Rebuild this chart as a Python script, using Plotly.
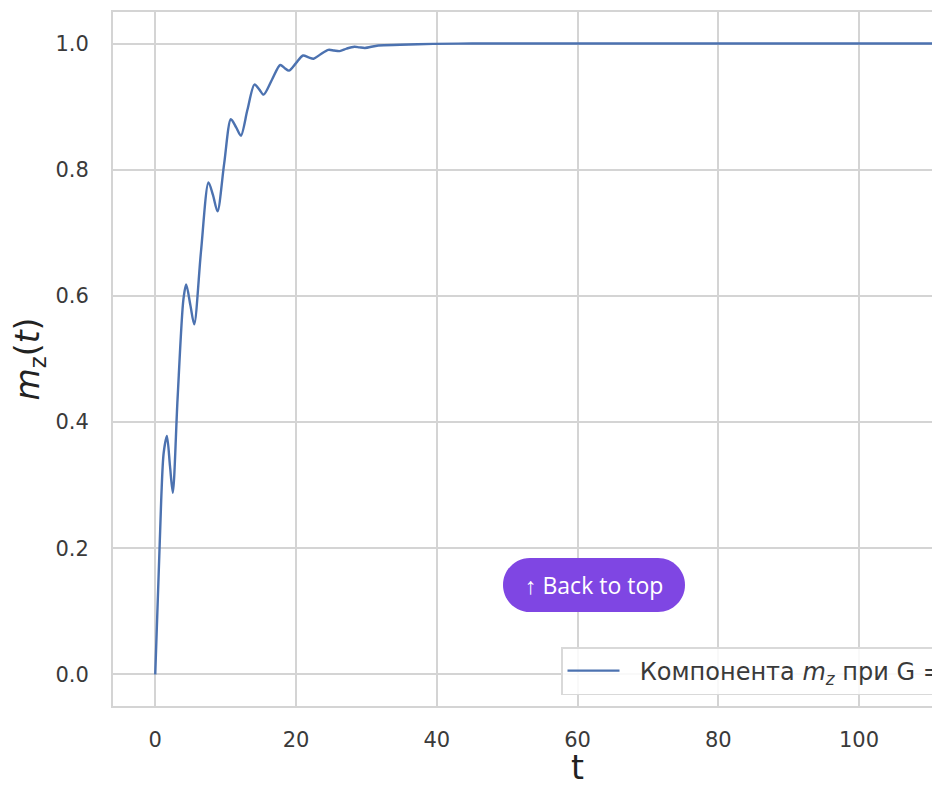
import plotly.graph_objects as go

# ---- data ----
t_vals = [0, 0.85, 1.2, 1.66, 2.1, 2.5, 3.17, 4.0, 4.4, 5.0, 5.54, 6.5, 7.57, 8.2, 8.85,
          9.8, 10.75, 11.5, 12.17, 13.1, 14.1, 14.8, 15.4, 16.6, 17.76, 18.4, 19.0,
          20.0, 21.0, 21.8, 22.5, 23.5, 24.6, 25.4, 26.2, 27.2, 28.3, 29.0, 29.8,
          31.7, 34.8, 39.5, 45, 60, 80, 100, 120]
mz_vals = [0.0, 0.277, 0.351, 0.378, 0.33, 0.288, 0.436, 0.594, 0.618, 0.585, 0.555,
           0.67, 0.78, 0.76, 0.734, 0.81, 0.88, 0.867, 0.854, 0.895, 0.935, 0.927,
           0.919, 0.943, 0.966, 0.961, 0.957, 0.969, 0.981, 0.978, 0.976, 0.983,
           0.990, 0.989, 0.988, 0.992, 0.995, 0.994, 0.993, 0.997, 0.998, 0.9995,
           1.0, 1.0, 1.0, 1.0, 1.0]
x_ticks = [0, 20, 40, 60, 80, 100]
y_ticks = [0.0, 0.2, 0.4, 0.6, 0.8, 1.0]
y_tick_text = ["0.0", "0.2", "0.4", "0.6", "0.8", "1.0"]
x_title = "t"
y_title = "<i>m</i><sub>z</sub>(<i>t</i>)"
series_name = "\u00a0\u00a0Компонента <i>m<sub>z</sub></i> при G = 0.1"

# page body has an 8px margin; keep the figure inside the viewport
OFF = 8
W, H = 932, 772
PL, PR, PT, PB = 113, OFF + W, 12, 706          # plot area in page pixels
L, R, T, B = PL - OFF, OFF + W - PR, PT - OFF, OFF + H - PB
PW, PH = PR - PL, PB - PT

def px(x):
    return (x - PL) / PW

def py(y):
    return (PB - y) / PH

fig = go.Figure()
fig.add_trace(go.Scatter(
    x=t_vals, y=mz_vals, mode="lines", name=series_name,
    line=dict(color="#4c72b0", width=2.4, shape="spline", smoothing=0.8),
    showlegend=True,
))

grid = "#d4d4d4"
font_color = "#3a3a3a"

fig.update_layout(
    width=W, height=H,
    margin=dict(l=L, r=R, t=T, b=B, pad=0, autoexpand=False),
    paper_bgcolor="white", plot_bgcolor="white",
    font=dict(family="DejaVu Sans", color=font_color, size=21),
    xaxis=dict(
        range=[-6, (PR - 155) / 7.04], tickvals=x_ticks, ticktext=[str(v) for v in x_ticks],
        showgrid=True, gridcolor=grid, gridwidth=1.6, zeroline=False,
        showline=True, linecolor=grid, linewidth=2, mirror=True,
        ticks="", ticklabelstandoff=14, automargin=False,
    ),
    yaxis=dict(
        range=[-0.05, 1.05], tickvals=y_ticks, ticktext=y_tick_text,
        showgrid=True, gridcolor=grid, gridwidth=1.6, zeroline=False,
        showline=True, linecolor=grid, linewidth=2, mirror=False,
        ticks="", ticklabelstandoff=18, automargin=False,
        title=dict(text=y_title, font=dict(size=33, color="#222222"), standoff=10),
    ),
    legend=dict(
        x=px(561), y=py(647), xanchor="left", yanchor="top",
        bgcolor="rgba(255,255,255,0.85)", bordercolor="#d9d9d9", borderwidth=1.5,
        font=dict(size=24, color=font_color), itemwidth=52,
    ),
)

# x-axis title placed low, as in the reference
fig.add_annotation(x=60, xref="x", y=py(OFF + H), yref="paper",
                   xanchor="center", yanchor="bottom", yshift=-9,
                   text=x_title, showarrow=False,
                   font=dict(size=33, color="#222222"))

# "Back to top" pill overlay
x0, x1, y0, y1 = 503, 685, 558, 612
r = (y1 - y0) / 2
k = 0.5523 * r
cxl, cxr, cy = x0 + r, x1 - r, (y0 + y1) / 2
pts = [
    ("M", [(cxl, y0)]),
    ("L", [(cxr, y0)]),
    ("C", [(cxr + k, y0), (x1, cy - k), (x1, cy)]),
    ("C", [(x1, cy + k), (cxr + k, y1), (cxr, y1)]),
    ("L", [(cxl, y1)]),
    ("C", [(cxl - k, y1), (x0, cy + k), (x0, cy)]),
    ("C", [(x0, cy - k), (cxl - k, y0), (cxl, y0)]),
]
path = ""
for cmd, ps in pts:
    path += cmd + " " + " ".join(f"{px(a):.5f},{py(b):.5f}" for a, b in ps) + " "
path += "Z"
fig.add_shape(type="path", path=path, xref="paper", yref="paper",
              fillcolor="#7f46e3", line=dict(width=0), layer="above")
fig.add_annotation(x=px((x0 + x1) / 2), y=py(cy), xref="paper", yref="paper",
                   xanchor="center", yanchor="middle",
                   text="<b>↑</b> Back to top", showarrow=False,
                   font=dict(family="Open Sans", size=23, color="white"))

fig.write_html("out.html")
